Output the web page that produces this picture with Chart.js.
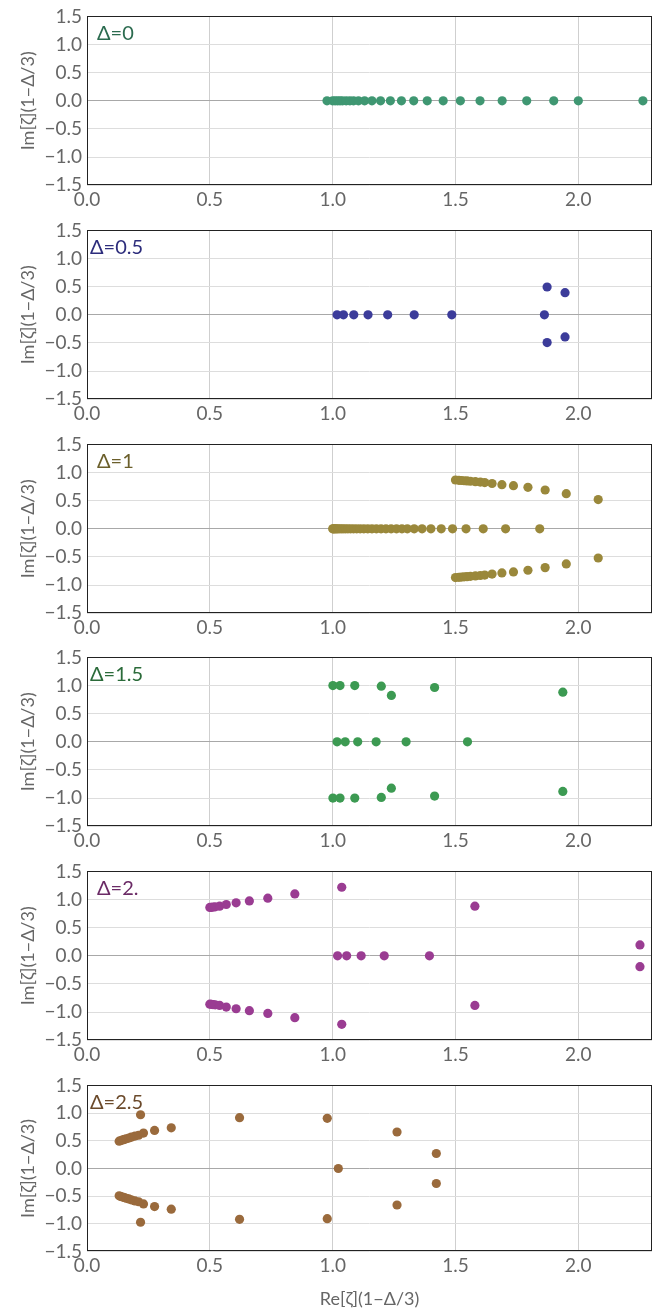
<!DOCTYPE html>
<html>
<head>
<meta charset="utf-8">
<script src="https://cdn.jsdelivr.net/npm/chart.js@4/dist/chart.umd.min.js"></script>
<style>
  body { margin: 0; background: #fff; }
  .panel { position: absolute; left: 0; width: 670px; }
</style>
</head>
<body>
<div id="wrap"></div>
<script>
// axis ticks
const xTicks = [0, 0.5, 1.0, 1.5, 2.0];
const yTicks = [-1.5, -1.0, -0.5, 0, 0.5, 1.0, 1.5];

// Δ=0
const d0Re = [0.977, 1.0, 1.01, 1.02, 1.03, 1.04, 1.055, 1.07, 1.085, 1.105, 1.13, 1.16, 1.195, 1.235, 1.28, 1.33, 1.385, 1.45, 1.52, 1.60, 1.69, 1.79, 1.90, 2.0, 2.263];
const d0Im = [0, 0, 0, 0, 0, 0, 0, 0, 0, 0, 0, 0, 0, 0, 0, 0, 0, 0, 0, 0, 0, 0, 0, 0, 0];

// Δ=0.5
const d05Re = [1.018, 1.044, 1.086, 1.144, 1.224, 1.332, 1.485, 1.862, 1.873, 1.873, 1.946, 1.946];
const d05Im = [0, 0, 0, 0, 0, 0, 0, 0, 0.494, -0.494, 0.393, -0.393];

// Δ=1
const d1Re = [
  1.0, 1.003, 1.006, 1.01, 1.015, 1.02, 1.027, 1.035, 1.043, 1.052, 1.062, 1.073, 1.085, 1.098, 1.112, 1.127, 1.143,
  1.16, 1.178, 1.197, 1.217, 1.238, 1.26, 1.282, 1.304, 1.332, 1.364, 1.400, 1.442, 1.488, 1.543, 1.613, 1.704, 1.843,
  1.500, 1.514, 1.524, 1.535, 1.547, 1.561, 1.581, 1.601, 1.619, 1.649, 1.689, 1.736, 1.795, 1.865, 1.951, 2.081,
  1.500, 1.514, 1.524, 1.535, 1.547, 1.561, 1.581, 1.601, 1.619, 1.649, 1.689, 1.736, 1.795, 1.865, 1.951, 2.081
];
const d1Im = [
  0, 0, 0, 0, 0, 0, 0, 0, 0, 0, 0, 0, 0, 0, 0, 0, 0,
  0, 0, 0, 0, 0, 0, 0, 0, 0, 0, 0, 0, 0, 0, 0, 0, 0,
  0.867, 0.862, 0.858, 0.854, 0.850, 0.845, 0.838, 0.830, 0.822, 0.805, 0.785, 0.767, 0.737, 0.69, 0.625, 0.519,
  -0.867, -0.862, -0.858, -0.854, -0.850, -0.845, -0.838, -0.830, -0.822, -0.805, -0.785, -0.767, -0.737, -0.69, -0.625, -0.519
];

// Δ=1.5
const d15Re = [1.001, 1.030, 1.090, 1.198, 1.239, 1.415, 1.937,
  1.018, 1.051, 1.102, 1.177, 1.299, 1.549,
  1.001, 1.030, 1.090, 1.198, 1.239, 1.415, 1.937];
const d15Im = [1.0, 1.0, 1.0, 0.988, 0.824, 0.965, 0.882,
  0, 0, 0, 0, 0, 0,
  -1.0, -1.0, -1.0, -0.988, -0.824, -0.965, -0.882];

// Δ=2.
const d2Re = [0.50, 0.506, 0.513, 0.522, 0.54, 0.567, 0.607, 0.661, 0.736, 0.846, 1.037, 1.579, 2.251,
  1.02, 1.057, 1.116, 1.21, 1.394,
  0.50, 0.506, 0.513, 0.522, 0.54, 0.567, 0.607, 0.661, 0.736, 0.846, 1.037, 1.579, 2.251];
const d2Im = [0.859, 0.862, 0.866, 0.871, 0.882, 0.912, 0.941, 0.976, 1.024, 1.10, 1.218, 0.882, 0.194,
  0, 0, 0, 0, 0,
  -0.859, -0.862, -0.866, -0.871, -0.882, -0.912, -0.941, -0.976, -1.024, -1.10, -1.218, -0.882, -0.194];

// Δ=2.5
const d25Re = [0.131, 0.138, 0.145, 0.152, 0.16, 0.17, 0.18, 0.195, 0.21, 0.23, 0.275, 0.343, 0.218, 0.621, 0.978, 1.262, 1.422,
  1.023,
  0.131, 0.138, 0.145, 0.152, 0.16, 0.17, 0.18, 0.195, 0.21, 0.23, 0.275, 0.343, 0.218, 0.621, 0.978, 1.262, 1.422];
const d25Im = [0.494, 0.505, 0.515, 0.525, 0.537, 0.55, 0.565, 0.585, 0.60, 0.64, 0.688, 0.735, 0.97, 0.918, 0.906, 0.659, 0.271,
  0,
  -0.494, -0.505, -0.515, -0.525, -0.537, -0.55, -0.565, -0.585, -0.60, -0.64, -0.688, -0.735, -0.97, -0.918, -0.906, -0.659, -0.271];

const panels = [
  { label: 'Δ=0',   re: d0Re,  im: d0Im,  color: '#3f9772', text: '#2b6b4f', lx: 10 },
  { label: 'Δ=0.5', re: d05Re, im: d05Im, color: '#3c3c9a', text: '#2d2d7c', lx: 3 },
  { label: 'Δ=1',   re: d1Re,  im: d1Im,  color: '#9a883b', text: '#6b5f2b', lx: 10 },
  { label: 'Δ=1.5', re: d15Re, im: d15Im, color: '#3c9a52', text: '#2b6b3a', lx: 3 },
  { label: 'Δ=2.',  re: d2Re,  im: d2Im,  color: '#9a3c92', text: '#6b2b66', lx: 10 },
  { label: 'Δ=2.5', re: d25Re, im: d25Im, color: '#9a6a3c', text: '#6b4a2b', lx: 3 }
];

const FONT = 'Lato, "Noto Sans", sans-serif';
const fmt = v => (v < 0 ? '\u2212' : '') + Math.abs(v).toFixed(1);

const framePlugin = {
  id: 'frame',
  afterDraw(chart, args, opts) {
    const { ctx, chartArea: a } = chart;
    ctx.save();
    ctx.strokeStyle = '#222';
    ctx.lineWidth = 1;
    ctx.strokeRect(Math.round(a.left) + 0.5, Math.round(a.top) + 0.5, Math.round(a.width) - 1, Math.round(a.height) - 1);
    ctx.fillStyle = opts.color;
    ctx.font = '20px ' + FONT;
    ctx.textBaseline = 'middle';
    ctx.fillText(opts.text, a.left + opts.lx, a.top + 17);
    ctx.restore();
  }
};

const wrap = document.getElementById('wrap');
const tops = [0, 214, 428, 641, 855, 1069];

panels.forEach((p, i) => {
  const last = i === panels.length - 1;
  const h = last ? 244 : 214;
  const div = document.createElement('div');
  div.className = 'panel';
  div.style.top = tops[i] + 'px';
  div.style.height = h + 'px';
  const cv = document.createElement('canvas');
  div.appendChild(cv);
  wrap.appendChild(div);

  const pts = p.re.map((x, k) => ({ x: x, y: p.im[k] }));

  new Chart(cv, {
    type: 'scatter',
    data: {
      datasets: [{
        data: pts,
        backgroundColor: p.color,
        borderColor: p.color,
        pointRadius: 4.6,
        pointBorderWidth: 0,
        pointHoverRadius: 4.6
      }]
    },
    plugins: [framePlugin],
    options: {
      responsive: true,
      maintainAspectRatio: false,
      animation: false,
      events: [],
      layout: { padding: { top: 3, right: 18, left: 17, bottom: last ? 3 : 0 } },
      plugins: {
        legend: { display: false },
        tooltip: { enabled: false },
        frame: { text: p.label, color: p.text, lx: p.lx }
      },
      scales: {
        x: {
          type: 'linear',
          min: 0,
          max: 2.3,
          afterBuildTicks: s => { s.ticks = xTicks.map(v => ({ value: v })); },
          ticks: { callback: fmt, color: '#666', font: { family: FONT, size: 19 }, padding: 3, maxRotation: 0 },
          grid: { color: '#cfcfcf', drawTicks: false },
          border: { display: false },
          title: {
            display: last,
            text: 'Re[ζ](1\u2212Δ/3)',
            color: '#666',
            font: { family: FONT, size: 18 },
            padding: { top: 8, bottom: 0 }
          }
        },
        y: {
          type: 'linear',
          min: -1.5,
          max: 1.5,
          afterBuildTicks: s => { s.ticks = yTicks.map(v => ({ value: v })); },
          afterFit: s => { s.width = 70; },
          ticks: { callback: fmt, color: '#666', font: { family: FONT, size: 19 }, padding: 5 },
          grid: {
            color: c => (c.tick && c.tick.value === 0 ? '#a8a8a8' : '#dddddd'),
            drawTicks: false
          },
          border: { display: false },
          title: {
            display: true,
            text: 'Im[ζ](1\u2212Δ/3)',
            color: '#666',
            font: { family: FONT, size: 18 },
            padding: 0
          }
        }
      }
    }
  });
});
</script>
</body>
</html>
